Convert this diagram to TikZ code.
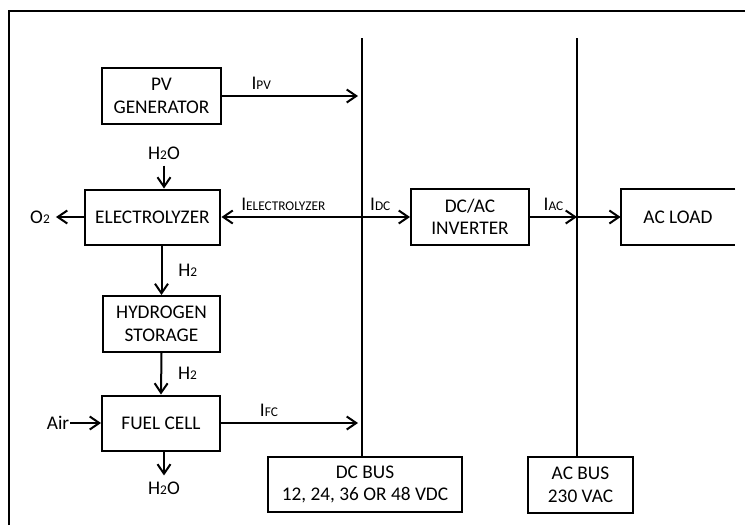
\documentclass[tikz,border=0pt]{standalone}
\usepackage{fontspec}
\setmainfont{Carlito}
\usepackage{tikz}
\usetikzlibrary{arrows.meta,positioning,calc}
\newcommand{\smallcaps}[1]{{\fontsize{7.6}{9}\selectfont #1}}
\newcommand{\curr}[1]{I\smallcaps{#1}}
\newcommand{\water}{H\smallcaps{2}O}
\newcommand{\hyd}{H\smallcaps{2}}

\begin{document}
\begin{tikzpicture}[x=0.02cm,y=-0.02cm,font=\fontsize{11}{12.8}\selectfont,
  block/.style={draw,line width=0.04cm,align=center,inner sep=0pt,minimum height=1.1cm},
  flow/.style={line width=0.04cm,-{Straight Barb[length=0.19cm,width=0.26cm,line width=0.04cm]}},
  busline/.style={line width=0.04cm}]
\useasboundingbox (0,0) rectangle (745,525);
\draw[busline] (9,525) -- (9,11) -- (745,11);
\coordinate (dctop) at (362,38);
\coordinate (actop) at (577,38);
\node[block,minimum width=2.38cm,minimum height=1.12cm] (pv) at (161.5,96) {PV\\GENERATOR};
\node[block,minimum width=2.72cm] (elec) at (152.5,217) {ELECTROLYZER};
\node[block,minimum width=2.34cm,minimum height=1.12cm] (store) at (161.5,324) {HYDROGEN\\STORAGE};
\node[block,minimum width=2.36cm] (fc) at (161,423) {FUEL CELL};
\node[block,minimum width=2.36cm,minimum height=1.12cm] (inv) at (470,217) {DC/AC\\INVERTER};
\node[align=center,inner sep=0pt,minimum width=2.28cm,minimum height=1.1cm] (load) at (678,217) {AC LOAD};
\node[block,minimum width=3.88cm] (dcbus) at (365,484.5) {DC BUS\\12, 24, 36 OR 48 VDC};
\node[block,minimum width=2.1cm,minimum height=1.12cm] (acbus) at (580.5,485) {AC BUS\\230 VAC};
\node (h2oin) at (164,153) {\water};
\node (h2oout) at (164,488) {\water};
\node (o2) at (40,217) {O\smallcaps{2}};
\node[inner sep=0.5pt] (air) at (58,423) {Air};
\draw[busline] (load.north east) -- (load.north west) -- (load.south west) -- (load.south east);
\draw[busline] (dctop) -- (dctop |- dcbus.north);
\draw[busline] (actop) -- (actop |- acbus.north);
\draw[flow,shorten >=0.08cm] (pv.east) -- (pv.east -| dctop) node[pos=0.28,above] {\curr{PV}};
\draw[flow] (h2oin.south) -- (h2oin.south |- elec.north);
\draw[flow] (elec.west) -- (o2.east);
\draw[flow] (elec.east -| dctop) -- (elec.east) node[pos=0.56,above] {\curr{ELECTROLYZER}};
\draw[flow] (elec.east -| dctop) -- (inv.west) node[pos=0.38,above] {\curr{DC}};
\draw[flow] (inv.east) -- (inv.east -| actop) node[midway,above] {\curr{AC}};
\draw[flow] (inv.east -| actop) -- (load.west);
\draw[flow] (store.north |- elec.south) -- (store.north) node[midway,right=0.2cm] {\hyd};
\draw[flow] (store.south) -- (fc.north) node[midway,right=0.2cm] {\hyd};
\draw[flow] (air.east) -- (fc.west);
\draw[flow] (fc.south -| h2oout) -- (h2oout.north);
\draw[flow,shorten >=0.08cm] (fc.east) -- (fc.east -| dctop) node[pos=0.34,above] {\curr{FC}};
\end{tikzpicture}
\end{document}
